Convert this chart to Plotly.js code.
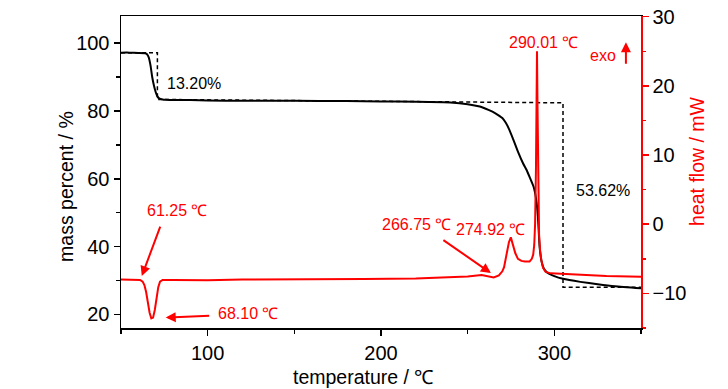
<!DOCTYPE html>
<html>
<head>
<meta charset="utf-8">
<script src="https://cdn.plot.ly/plotly-3.0.1.min.js"></script>
<style>html,body{margin:0;padding:0;background:#fff;}#chart{width:728px;height:389px;}</style>
</head>
<body>
<div id="chart"></div>
<script>
// Mass (TG) curve
const tempMass = [50,55,60,64,65,66,67,68,69,70,71,72,74,76,80,90,100,120,150,180,200,220,240,250,257,262,266,270,272,274,276,279,282,284,286,288,289.5,290.5,291.5,292.5,294,296,300,305,315,325,335,350];
const massPct = [97.2,97.2,97.1,97.0,96.7,95.8,93.5,90.0,87.5,85.6,84.3,83.7,83.4,83.3,83.2,83.2,83.1,83.0,83.0,82.9,82.8,82.7,82.5,82.0,81.3,80.3,79.3,77.9,76.5,74.5,72.0,68.0,64.5,62.6,60.2,57.7,54.0,49.0,40.0,36.0,33.5,32.3,31.3,30.5,29.6,28.9,28.3,27.7];

// Heat flow (DSC) curve
const tempHeat = [50,55,61,62.5,63.5,64.5,65.5,66.5,67.5,68.5,69.5,70.5,71.5,72.5,74,80,100,120,150,190,220,240,250,258,262,265,268,270,271,272.5,273.8,274.9,276,277.5,279,281,283,285.7,287,287.8,288.4,288.9,289.4,289.8,290.0,290.3,290.7,291.2,291.8,292.5,293.5,295,298,305,315,330,350];
const heatFlow = [-8.0,-8.0,-8.05,-8.3,-8.8,-9.8,-11.3,-12.8,-13.6,-13.5,-12.4,-10.6,-9.1,-8.3,-8.05,-8.05,-8.1,-8.0,-8.0,-7.9,-7.85,-7.7,-7.55,-7.35,-7.55,-7.7,-7.4,-6.8,-6.2,-4.5,-2.6,-1.9,-2.8,-4.2,-5.0,-5.3,-5.4,-5.4,-5.0,-4.4,-3.0,0,8,18,25,17,5,-1.5,-3.8,-5.2,-6.3,-6.9,-7.1,-7.2,-7.3,-7.5,-7.6];

// Step-construction dashed line
const tempSteps = [50,71,71,305,305,350];
const massSteps = [97.2,97.2,83.4,82.4,28.0,28.0];

// Annotation labels
const lossLabels = ["13.20%", "53.62%"];
const lossX = [75.4, 311.5];
const lossY = [88.2, 56.6];
const peakLabels = ["290.01 ℃", "61.25 ℃", "68.10 ℃", "266.75 ℃", "274.92 ℃"];
const peakX = [293.6, 82.3, 123.3, 220.3, 263.3];
const peakY = [26.3, 2.0, -12.9, 0.0, -0.75];
// arrow heads (temperature, heat flow)
const arrowX = [62.0, 75.8, 263.4];
const arrowY = [-7.5, -13.5, -7.06];
const arrowTail = [[19,-51],[45,-2],[-49,-34]];

const FONT = "Liberation Sans, Arial, sans-serif";

const traces = [
  {x: tempSteps, y: massSteps, mode: 'lines', line: {color: 'black', width: 1.5, dash: '4px,3px'}, yaxis: 'y', hoverinfo: 'skip'},
  {x: tempHeat, y: heatFlow, mode: 'lines', line: {color: '#ff0000', width: 2}, yaxis: 'y2'},
  {x: tempMass, y: massPct, mode: 'lines', line: {color: 'black', width: 2, shape: 'spline', smoothing: 0.5}, yaxis: 'y'}
];

const ann = [];
lossLabels.forEach((t,i) => ann.push({x: lossX[i], y: lossY[i], xref: 'x', yref: 'y', text: t, showarrow: false, xanchor: 'left', yanchor: 'middle', font: {family: FONT, size: 16, color: 'black'}}));
peakLabels.forEach((t,i) => ann.push({x: peakX[i], y: peakY[i], xref: 'x', yref: 'y2', text: t, showarrow: false, xanchor: 'center', yanchor: 'middle', font: {family: FONT, size: 16, color: '#ff0000'}}));
arrowX.forEach((x,i) => ann.push({x: x, y: arrowY[i], xref: 'x', yref: 'y2', text: '', showarrow: true, ax: arrowTail[i][0], ay: arrowTail[i][1], arrowhead: 2, arrowsize: 1, arrowwidth: 2, arrowcolor: '#ff0000'}));
ann.push({x: 328.2, y: 24.4, xref: 'x', yref: 'y2', text: 'exo', showarrow: false, xanchor: 'center', yanchor: 'middle', font: {family: FONT, size: 16, color: '#ff0000'}});
ann.push({x: 341.3, y: 26.3, xref: 'x', yref: 'y2', text: '', showarrow: true, ax: 0, ay: 23, arrowhead: 2, arrowsize: 1, arrowwidth: 2, arrowcolor: '#ff0000'});
// axis titles
ann.push({x: -0.106, y: 0.455, xref: 'paper', yref: 'paper', xanchor: 'center', yanchor: 'middle', text: 'mass percent / %', textangle: -90, showarrow: false, font: {family: FONT, size: 19.5, color: 'black'}});
ann.push({x: 1.108, y: 0.536, xref: 'paper', yref: 'paper', xanchor: 'center', yanchor: 'middle', text: 'heat flow / mW', textangle: -90, showarrow: false, font: {family: FONT, size: 19.5, color: '#ff0000'}});
ann.push({x: 0.466, y: -0.158, xref: 'paper', yref: 'paper', xanchor: 'center', yanchor: 'middle', text: 'temperature / ℃', showarrow: false, font: {family: FONT, size: 19.5, color: 'black'}});

const layout = {
  width: 728, height: 389,
  margin: {l: 121, r: 87, t: 16, b: 61},
  paper_bgcolor: 'white', plot_bgcolor: 'white',
  showlegend: false,
  font: {family: FONT, size: 20, color: 'black'},
  xaxis: {range: [50, 350], tick0: 0, dtick: 100, ticks: 'outside', ticklen: 6, tickwidth: 1.5, tickcolor: 'black',
          showline: true, linecolor: 'black', linewidth: 1.5, mirror: true, showgrid: false, zeroline: false,
          minor: {dtick: 50, tick0: 0, ticks: 'outside', ticklen: 4, tickwidth: 1.5, tickcolor: 'black'},
          tickfont: {family: FONT, size: 20, color: 'black'}},
  yaxis: {range: [16, 108], tick0: 0, dtick: 20, ticks: 'outside', ticklen: 6, tickwidth: 1.5, tickcolor: 'black',
          showline: true, linecolor: 'black', linewidth: 1.5, showgrid: false, zeroline: false,
          minor: {dtick: 10, tick0: 0, ticks: 'outside', ticklen: 3.5, tickwidth: 1.5, tickcolor: 'black'},
          tickfont: {family: FONT, size: 20, color: 'black'}},
  yaxis2: {range: [-15, 30.1], tick0: 0, dtick: 10, overlaying: 'y', side: 'right', ticks: 'outside', ticklen: 6, tickwidth: 1.5, tickcolor: '#ff0000',
          showline: true, linecolor: '#ff0000', linewidth: 1.5, showgrid: false, zeroline: false,
          minor: {dtick: 5, tick0: 0, ticks: 'outside', ticklen: 3.5, tickwidth: 1.5, tickcolor: '#ff0000'},
          tickfont: {family: FONT, size: 20, color: 'black'}},
  annotations: ann
};

Plotly.newPlot('chart', traces, layout, {displayModeBar: false, staticPlot: true});
</script>
</body>
</html>
